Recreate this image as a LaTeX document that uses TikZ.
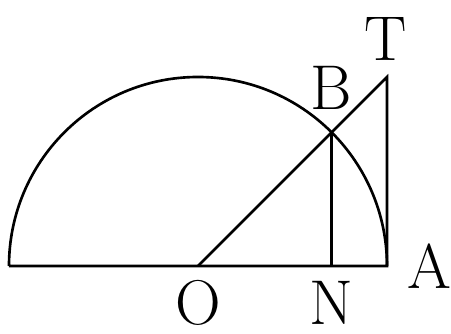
\documentclass[tikz,border=0pt]{standalone}
\usepackage{tikz}
\usetikzlibrary{calc}

\tikzset{
  seg/.style={line width=1.5pt, line join=miter},
  lbl/.style={inner sep=0pt, font=\fontsize{36}{40}\selectfont}
}

\begin{document}
\begin{tikzpicture}
					\useasboundingbox (-3.96,-1.36) rectangle (5.06,5.32);
					% points of the figure
					\coordinate (O) at (0,0);
					\coordinate (A) at (3.78,0);
					\coordinate (C) at (-3.78,0);
					\coordinate (B) at (45:3.78);
					\coordinate (N) at (B |- O);
					\coordinate (T) at (3.78,3.78);
					\draw[seg] (C) -- (A) arc[start angle=0, end angle=180, radius=3.78];
					\draw[seg] (O) -- (T) -- (A);
					\draw[seg] (B) -- (N);
					% labels
					\foreach \p/\x/\y in {T/3.76/4.54, B/2.66/3.56, A/4.62/0, O/0/-0.74, N/2.66/-0.74} {
						\node[lbl] (l\p) at (\x,\y) {\p};
					}
				\end{tikzpicture}
\end{document}
